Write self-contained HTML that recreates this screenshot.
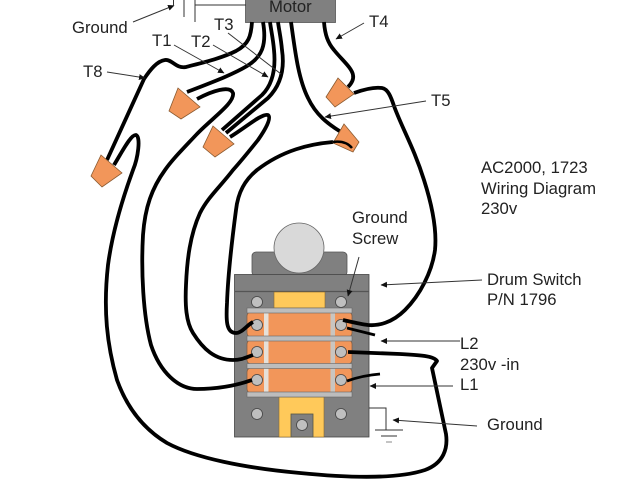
<!DOCTYPE html>
<html>
<head>
<meta charset="utf-8">
<style>
html,body{margin:0;padding:0;background:#fff;width:640px;height:480px;overflow:hidden}
svg{display:block;filter:blur(.35px)}
text{font-family:"Liberation Sans",Arial,sans-serif;font-size:16.7px;fill:#222}
.w{fill:none;stroke:#000;stroke-width:3.8;stroke-linecap:butt;stroke-linejoin:round}
.t{fill:none;stroke:#333;stroke-width:1}
.n{fill:#f2965a;stroke:#8a5a30;stroke-width:.8}
.s{fill:#bfbfbf;stroke:#444;stroke-width:.8}
.b{fill:#bdbdbd;stroke:#666;stroke-width:.6}
</style>
</head>
<body>
<svg width="640" height="480" viewBox="0 0 640 480" xmlns="http://www.w3.org/2000/svg">
<defs>
<marker id="a" markerWidth="7" markerHeight="6" refX="6" refY="3" orient="auto" markerUnits="userSpaceOnUse">
<path d="M0 0L6.500 3L0 6z" fill="#111"/>
</marker>
</defs>

<!-- Motor -->
<rect x="245.500" y="-2" width="90" height="24.500" fill="#808080" stroke="#555" stroke-width=".8"/>
<text x="269" y="12">Motor</text>
<path class="t" d="M184 0V17M195 0V22M195 5H246M173.500 0V5"/>

<!-- Switch -->
<rect x="252" y="252" width="95" height="24" rx="4" fill="#808080" stroke="#555" stroke-width=".8"/>
<circle cx="299" cy="248" r="25" fill="#d9d9d9" stroke="#666" stroke-width=".8"/>
<rect x="234.500" y="274.500" width="134.500" height="162.500" fill="#808080" stroke="#444" stroke-width=".8"/>
<path d="M234.500 291.500H369" stroke="#555" stroke-width="1.200"/>
<rect x="274" y="292" width="51" height="16" fill="#ffc95a" stroke="#8a6a30" stroke-width=".6"/>
<rect x="279" y="397" width="45" height="40" fill="#ffc95a" stroke="#8a6a30" stroke-width=".6"/>
<rect x="291" y="414" width="22" height="23" fill="#808080" stroke="#554" stroke-width=".8"/>

<rect x="247" y="312" width="105" height="25" rx="4" fill="#f2965a" stroke="#7a5a40" stroke-width=".7"/>
<rect x="247" y="340" width="105" height="24" rx="4" fill="#f2965a" stroke="#7a5a40" stroke-width=".7"/>
<rect x="247" y="368" width="105" height="25" rx="4" fill="#f2965a" stroke="#7a5a40" stroke-width=".7"/>
<rect x="264" y="312" width="4.500" height="81" fill="#e6e0d8"/>
<rect x="330.500" y="312" width="4.500" height="81" fill="#c9c5c0"/>
<rect x="247" y="308" width="105" height="5" class="b"/>
<rect x="247" y="336" width="105" height="5" class="b"/>
<rect x="247" y="363.500" width="105" height="5" class="b"/>
<rect x="247" y="392" width="105" height="5" class="b"/>

<circle class="s" cx="257" cy="302" r="5.500"/>
<circle class="s" cx="341" cy="302" r="5.500"/>
<circle class="s" cx="257" cy="325" r="5.500"/>
<circle class="s" cx="341" cy="325" r="5.500"/>
<circle class="s" cx="257" cy="352" r="5.500"/>
<circle class="s" cx="341" cy="352" r="5.500"/>
<circle class="s" cx="257" cy="380" r="5.500"/>
<circle class="s" cx="341" cy="380" r="5.500"/>
<circle class="s" cx="257" cy="414" r="5.500"/>
<circle class="s" cx="341" cy="414" r="5.500"/>
<circle class="s" cx="302" cy="425" r="5.500"/>

<!-- Ground symbol -->
<path class="t" d="M369 408H386V430M375 430H403M381 436H397"/>
<path d="M386 442H392" stroke="#888" stroke-width="1"/>

<!-- Wires -->
<path class="w" d="M252 22C251 36 249 44 236 51C222 58 205 62 186 67C176 69 172 59 165 60C157 61 150 70 144 79L107 160"/>
<path class="w" d="M114 165C122 152 131 134 136 135C141 137 138 158 133 170C122 200 112 235 108 265C103 310 107 345 117 380C126 405 142 428 167 443C195 458 245 468 300 473C340 477 395 480 425 470C444 463 448 448 446 434L432 368L437 361C434 356 420 355 400 354L348 352"/>
<path class="w" d="M187 92C210 83 232 75 247 66C262 57 267 45 263 22"/>
<path class="w" d="M197 99C212 91 230 85 233 93C235 103 212 118 196 135C180 152 172 160 165 170C152 188 145 207 143 235C141 270 143 315 151 345C160 372 178 389 197 389C215 389 235 386 252 380"/>
<path class="w" d="M222 130L262 95C272 85 276 70 274 50C273 38 271 30 270 22"/>
<path class="w" d="M226 133L268 98C280 86 285 70 282 50C281 38 279 30 278 22"/>
<path class="w" d="M230 137C245 128 262 113 268 115C272 118 265 130 258 140C250 150 242 160 233 170C220 187 208 197 200 213C190 235 187 260 186 285C185 305 186 322 193 333C203 349 215 360 233 360C242 360 247 357 253 355"/>
<path class="w" d="M333 142C310 144 283 150 257 170C245 180 238 192 236 210C232 240 228 275 227 303C226 320 226 333 236 333C242 333 247 325 253 322"/>
<path class="w" d="M291 22C295 50 298 78 308 98C316 115 328 124 341 132"/>
<path class="w" d="M324 22C325 35 328 43 334 50C342 60 352 68 353 75C354 80 351 84 348 87"/>
<path class="w" d="M354 93C365 89 375 87 382 88C388 89 391 97 394 106C402 128 414 148 424 180C432 205 437 230 435 250C432 272 420 295 405 310C392 323 378 326 368 325C360 324 352 322 343 320"/>
<path class="w" style="stroke-width:2.800" d="M347 328L375 335"/>
<path class="w" style="stroke-width:2.800" d="M347 381C358 377 368 375 380 374"/>

<!-- Wire nuts -->
<polygon class="n" points="178,88 200,107 181,119 169,111"/>
<polygon class="n" points="213,126 234,144 215,157 203,147"/>
<polygon class="n" points="101,155 122,173 102,187 91,176"/>
<polygon class="n" points="338,78 354,94 335,107 326,97"/>
<polygon class="n" points="344,124 359,142 353,152 333,143"/>
<path class="w" style="stroke-width:2.500" d="M333 142C340 141 347 142 352 148"/>

<!-- Leaders -->
<path class="t" marker-end="url(#a)" d="M133 22L174 5.500"/>
<path class="t" marker-end="url(#a)" d="M107 72L145 78"/>
<path class="t" marker-end="url(#a)" d="M174 45L224 73"/>
<path class="t" marker-end="url(#a)" d="M213 45L268 77"/>
<path class="t" d="M228 33L281 74"/>
<path class="t" marker-end="url(#a)" d="M364 23L336 39"/>
<path class="t" marker-end="url(#a)" d="M426 101L325 117"/>
<path class="t" marker-end="url(#a)" d="M359 257L348 296"/>
<path class="t" marker-end="url(#a)" d="M482 280L381 285"/>
<path class="t" marker-end="url(#a)" d="M460 341H381"/>
<path class="t" marker-end="url(#a)" d="M453 386H370"/>
<path class="t" marker-end="url(#a)" d="M477 426L393 420"/>

<!-- Labels -->
<text x="72" y="33">Ground</text>
<text x="83" y="77">T8</text>
<text x="152" y="46">T1</text>
<text x="191" y="47">T2</text>
<text x="214" y="30">T3</text>
<text x="369" y="27">T4</text>
<text x="431" y="106">T5</text>
<text x="481" y="173">AC2000, 1723</text>
<text x="481" y="194">Wiring Diagram</text>
<text x="481" y="214">230v</text>
<text x="352" y="223">Ground</text>
<text x="352" y="244">Screw</text>
<text x="487" y="285">Drum Switch</text>
<text x="487" y="305">P/N 1796</text>
<text x="460" y="349">L2</text>
<text x="460" y="370">230v -in</text>
<text x="460" y="390">L1</text>
<text x="487" y="430">Ground</text>
</svg>
</body>
</html>
